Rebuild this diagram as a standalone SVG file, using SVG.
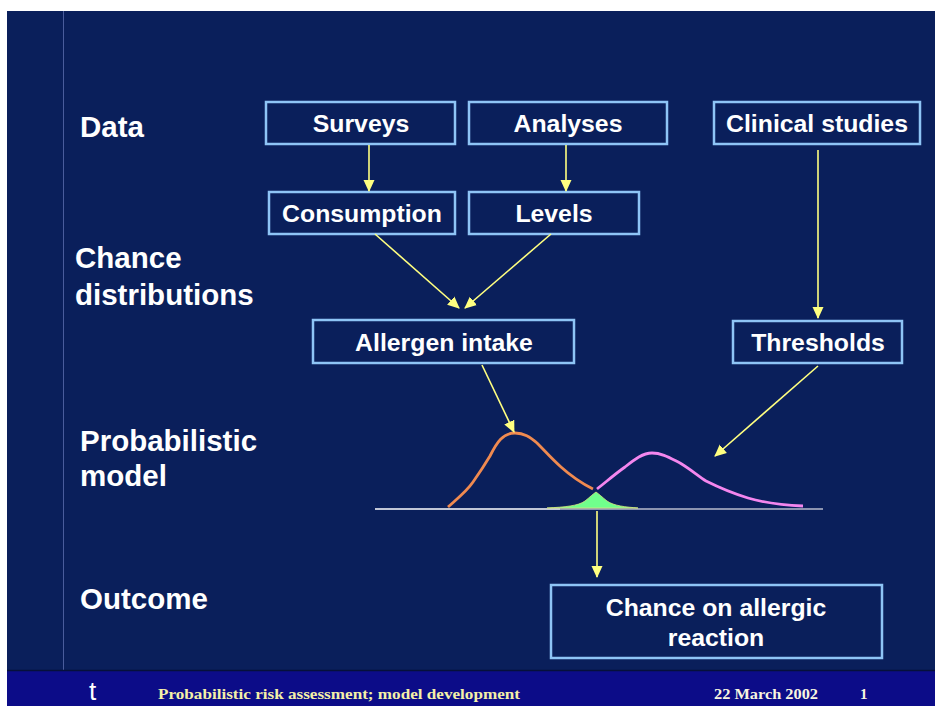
<svg xmlns="http://www.w3.org/2000/svg" width="935" height="706" viewBox="0 0 935 706">
  <defs>
    <marker id="arrow" markerWidth="12" markerHeight="12" refX="11" refY="6" orient="auto" markerUnits="userSpaceOnUse">
      <path d="M0,0.5 L12,6 L0,11.5 Z" fill="#ffff80"/>
    </marker>
    <style>
      .box { fill: none; stroke: #8ec4f6; stroke-width: 2.5; }
      .label { font-family: "Liberation Sans", Arial, sans-serif; font-weight: bold; fill: #ffffff; }
      .side { font-size: 29.5px; }
      .node { font-size: 24.8px; text-anchor: middle; }
      .link { stroke: #ffff80; stroke-width: 1.6; fill: none; marker-end: url(#arrow); }
      .foot { font-family: "Liberation Serif", "Times New Roman", serif; font-weight: bold; font-size: 15px; }
    </style>
  </defs>

  <!-- page -->
  <rect x="0" y="0" width="935" height="706" fill="#ffffff"/>
  <rect x="7" y="11" width="928" height="695" fill="#0a1f5b"/>
  <line x1="63.5" y1="11" x2="63.5" y2="670" stroke="#4a5c9c" stroke-width="1"/>

  <!-- footer band -->
  <rect x="7" y="670" width="928" height="36" fill="#0c0c88"/>
  <line x1="7" y1="670.5" x2="935" y2="670.5" stroke="#06103a" stroke-width="1.5"/>
  <text x="89" y="700" font-family="'Liberation Sans', Arial, sans-serif" font-size="26" fill="#ffffff">t</text>
  <text class="foot" x="158" y="699" fill="#f4f0a8" textLength="362" lengthAdjust="spacingAndGlyphs">Probabilistic risk assessment; model development</text>
  <text class="foot" x="714" y="699" fill="#f8f6e0" textLength="104" lengthAdjust="spacingAndGlyphs">22 March 2002</text>
  <text class="foot" x="860" y="699" fill="#f8f6e0">1</text>

  <!-- row labels -->
  <g id="row-labels" class="label side">
    <text x="80" y="137">Data</text>
    <text x="75" y="268">Chance</text>
    <text x="75" y="305">distributions</text>
    <text x="80" y="451">Probabilistic</text>
    <text x="80" y="486">model</text>
    <text x="80" y="609">Outcome</text>
  </g>

  <!-- nodes -->
  <g id="surveys">
    <rect class="box" x="266" y="102" width="189" height="42"/>
    <text class="label node" x="361" y="132">Surveys</text>
  </g>
  <g id="analyses">
    <rect class="box" x="469" y="102" width="198" height="42"/>
    <text class="label node" x="568" y="132">Analyses</text>
  </g>
  <g id="clinical-studies">
    <rect class="box" x="714" y="102" width="206" height="42"/>
    <text class="label node" x="817" y="132">Clinical studies</text>
  </g>
  <g id="consumption">
    <rect class="box" x="269" y="192" width="186" height="42"/>
    <text class="label node" x="362" y="222">Consumption</text>
  </g>
  <g id="levels">
    <rect class="box" x="469" y="192" width="170" height="42"/>
    <text class="label node" x="554" y="222">Levels</text>
  </g>
  <g id="allergen-intake">
    <rect class="box" x="313" y="320" width="261" height="43"/>
    <text class="label node" x="444" y="351">Allergen intake</text>
  </g>
  <g id="thresholds">
    <rect class="box" x="733" y="321" width="169" height="42"/>
    <text class="label node" x="818" y="351">Thresholds</text>
  </g>
  <g id="chance-allergic-reaction">
    <rect class="box" x="551" y="585" width="331" height="73"/>
    <text class="label node" x="716" y="616">Chance on allergic</text>
    <text class="label node" x="716" y="646">reaction</text>
  </g>

  <!-- probabilistic model: intake and threshold distributions -->
  <g id="distributions">
    <line x1="375" y1="509" x2="560" y2="509" stroke="#ffffff" stroke-width="1.5"/>
    <line x1="560" y1="509" x2="823" y2="509" stroke="#b8bccc" stroke-width="1.5"/>
    <path d="M547,508 C565,507 578,506 585,501 C590,497 593,494 596,492 C599,494 602,497 607,501 C614,506 626,507 638,508 Z" fill="#70ff8c" stroke="#d8e880" stroke-width="0.8"/>
    <path d="M448,507 C458,498 467,491 473,482 C480,472 484,466 490,456 C497,442 503,433 515,433 C524,433 530,437 537,443 C545,451 551,458 561,467 C571,476 583,484 593,489" fill="none" stroke="#f08a50" stroke-width="2.8"/>
    <path d="M597,489 C606,482 615,474 625,467 C635,459 643,453 652,453 C662,453 670,458 680,463 C690,469 697,475 706,481 C720,488 735,494 748,498 C765,503 780,505 803,506" fill="none" stroke="#f486ee" stroke-width="2.8"/>
  </g>

  <!-- connectors -->
  <g id="connectors">
    <line class="link" x1="369" y1="145" x2="369" y2="191"/>
    <line class="link" x1="566" y1="145" x2="566" y2="191"/>
    <line class="link" x1="818" y1="150" x2="818" y2="318"/>
    <line class="link" x1="375" y1="234" x2="459" y2="308"/>
    <line class="link" x1="551" y1="234" x2="465" y2="308"/>
    <line class="link" x1="482" y1="365" x2="514" y2="432"/>
    <line class="link" x1="818" y1="366" x2="715" y2="456"/>
    <line class="link" x1="597" y1="511" x2="597" y2="577"/>
  </g>
</svg>
